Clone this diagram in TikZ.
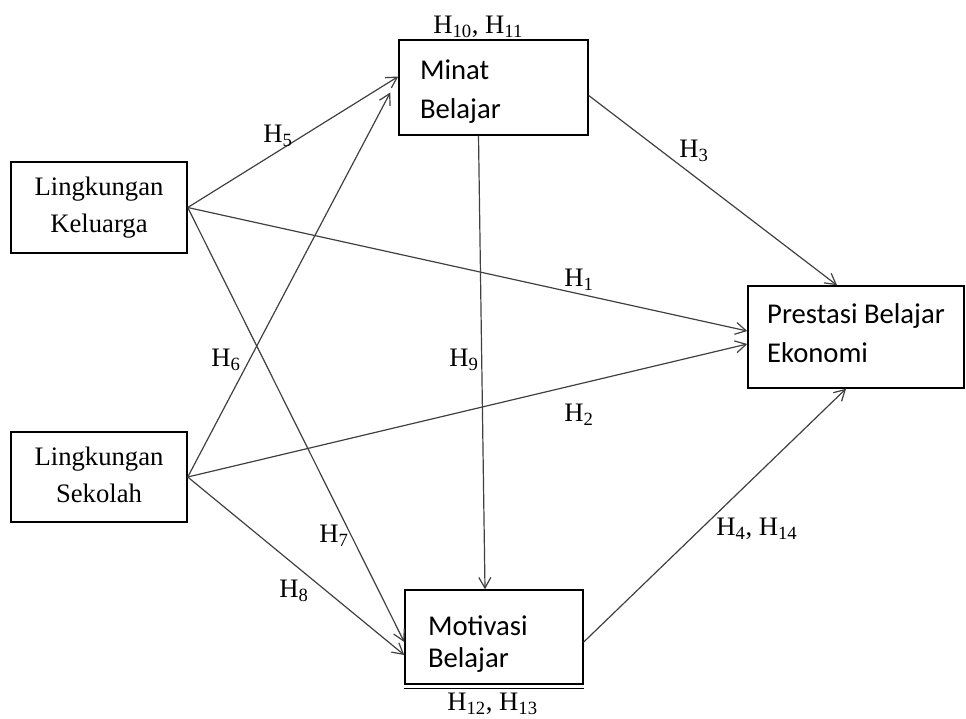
\documentclass[tikz,border=0pt]{standalone}
\usepackage{fontspec}
\setmainfont{Liberation Serif}
\newfontfamily\calibri{Carlito}
\usetikzlibrary{arrows.meta,calc}
\newcommand{\Hip}[1]{H\textsubscript{#1}}

\begin{document}
\begin{tikzpicture}[x=0.75pt,y=-0.75pt]
  % Gaya
  \tikzstyle{kotak}=[draw=black,line width=1.1pt,inner sep=0pt]
  \tikzstyle{hurufserif}=[font=\fontsize{20}{27.75}\selectfont,align=center]
  \tikzstyle{hurufsans}=[font=\calibri\fontsize{21.5}{29.25}\selectfont,align=left]
  \tikzstyle{panah}=[->,>={Straight Barb[length=8pt,width=9pt]},draw=black!75,line width=0.9pt]
  \tikzstyle{hipotesis}=[anchor=base west,inner sep=0pt,font=\fontsize{20}{24}\selectfont]
  \useasboundingbox (0,0) rectangle (966,718);
  % Kotak variabel
  \node[kotak,hurufserif,minimum width=132pt,text height=52.5pt,text depth=15.75pt] (kel) at (99,207.5) {Lingkungan\\Keluarga};
  \node[kotak,hurufserif,minimum width=132pt,text height=52.5pt,text depth=15pt] (sek) at (99,477) {Lingkungan\\Sekolah};
  \node[kotak,hurufsans,text width=110.25pt,inner xsep=15.75pt,text height=29.25pt,text depth=42pt] (minat) at (493.5,87.5) {Minat\\Belajar};
  \node[kotak,hurufsans,font=\calibri\fontsize{21.5}{24}\selectfont,text width=99pt,inner xsep=17.25pt,text height=33.75pt,text depth=36.75pt] (mot) at (494,637) {Motivasi\\Belajar};
  \node[kotak,hurufsans,minimum width=162pt,text height=57pt,text depth=19.5pt] (pres) at (856,337) {Prestasi Belajar\\Ekonomi};
  \draw[line width=1.1pt] ([yshift=-3pt]mot.south west) -- ([yshift=-3pt]mot.south east);
  % Panah
  \draw[panah] (kel.east) -- ($(minat.west)+(0,-11)$);
  \draw[panah] (sek.east) -- ($(minat.west)+(-8,5)$);
  \draw[panah] (kel.east) -- ($(pres.west)+(0,-6)$);
  \draw[panah] (sek.east) -- ($(pres.west)+(0,7)$);
  \draw[panah] (kel.east) -- ($(mot.west)+(0,5)$);
  \draw[panah] (sek.east) -- ($(mot.west)+(0,18)$);
  \draw[panah] ($(minat.south)+(-15,0)$) -- ($(mot.north)+(-9,0)$);
  \draw[panah] ($(minat.east)+(0,8)$) -- ($(pres.north)+(-19,0)$);
  \draw[panah] ($(mot.east)+(0,5)$) -- ($(pres.south)+(-10,0)$);
  % Label hipotesis
  \node[hipotesis] (h1011) at (433,33) {\Hip{10}, \Hip{11}};
  \node[hipotesis] (h5) at (263,142) {\Hip{5}};
  \node[hipotesis] (h3) at (679,157) {\Hip{3}};
  \node[hipotesis] (h1) at (564,286) {\Hip{1}};
  \node[hipotesis] (h6) at (211,366) {\Hip{6}};
  \node[hipotesis] (h9) at (449,366) {\Hip{9}};
  \node[hipotesis] (h2) at (564,421) {\Hip{2}};
  \node[hipotesis] (h7) at (319,542) {\Hip{7}};
  \node[hipotesis] (h414) at (716,535) {\Hip{4}, \Hip{14}};
  \node[hipotesis] (h8) at (279,597) {\Hip{8}};
  \node[hipotesis] (h1213) at (447,710) {\Hip{12}, \Hip{13}};
\end{tikzpicture}
\end{document}
